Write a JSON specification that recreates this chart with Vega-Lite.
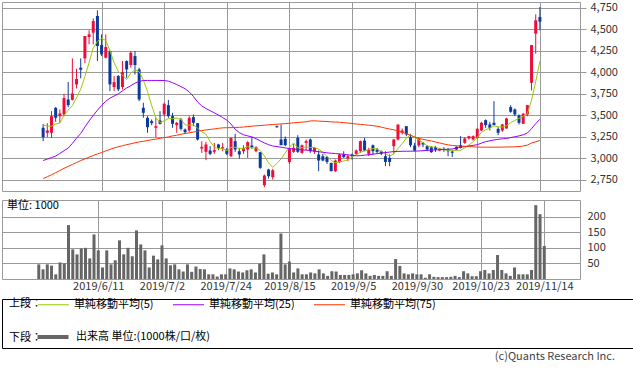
{
"$schema": "https://vega.github.io/schema/vega-lite/v6.json",
"padding": {"left": 1, "top": 1, "right": 0, "bottom": 0},
"background": "white",
"data": {"values": [
{"i":0,"o":3356,"h":3402,"l":3201,"c":3247,"v":47,"m5":3387,"m25":2976,"m75":2766},
{"i":1,"o":3298,"h":3410,"l":3247,"c":3325,"v":31,"m5":3375,"m25":2993,"m75":2788},
{"i":2,"o":3298,"h":3550,"l":3239,"c":3491,"v":47,"m5":3375,"m25":3010,"m75":2810},
{"i":3,"o":3588,"h":3596,"l":3426,"c":3472,"v":43,"m5":3400,"m25":3028,"m75":2835},
{"i":4,"o":3491,"h":3569,"l":3414,"c":3522,"v":15,"m5":3411,"m25":3058,"m75":2860},
{"i":5,"o":3511,"h":3751,"l":3491,"c":3701,"v":53,"m5":3502,"m25":3090,"m75":2885},
{"i":6,"o":3685,"h":3887,"l":3596,"c":3619,"v":50,"m5":3561,"m25":3120,"m75":2908},
{"i":7,"o":3681,"h":4162,"l":3674,"c":3755,"v":173,"m5":3614,"m25":3175,"m75":2930},
{"i":8,"o":3860,"h":4042,"l":3813,"c":3922,"v":95,"m5":3704,"m25":3235,"m75":2953},
{"i":9,"o":4054,"h":4162,"l":3930,"c":4030,"v":79,"m5":3805,"m25":3290,"m75":2975},
{"i":10,"o":4162,"h":4422,"l":4108,"c":4422,"v":98,"m5":3950,"m25":3365,"m75":2995},
{"i":11,"o":4410,"h":4488,"l":4325,"c":4441,"v":100,"m5":4114,"m25":3435,"m75":3015},
{"i":12,"o":4461,"h":4627,"l":4325,"c":4596,"v":66,"m5":4282,"m25":3500,"m75":3035},
{"i":13,"o":4655,"h":4720,"l":4131,"c":4306,"v":143,"m5":4359,"m25":3560,"m75":3052},
{"i":14,"o":4317,"h":4441,"l":4189,"c":4209,"v":92,"m5":4395,"m25":3615,"m75":3068},
{"i":15,"o":4170,"h":4441,"l":4162,"c":4294,"v":37,"m5":4369,"m25":3665,"m75":3088},
{"i":16,"o":4247,"h":4255,"l":3782,"c":3860,"v":92,"m5":4253,"m25":3700,"m75":3105},
{"i":17,"o":3829,"h":3957,"l":3782,"c":3887,"v":47,"m5":4111,"m25":3725,"m75":3122},
{"i":18,"o":3957,"h":3968,"l":3782,"c":3802,"v":60,"m5":4010,"m25":3750,"m75":3135},
{"i":19,"o":3829,"h":4131,"l":3802,"c":4003,"v":124,"m5":3969,"m25":3785,"m75":3148},
{"i":20,"o":4131,"h":4139,"l":3937,"c":4034,"v":79,"m5":3917,"m25":3818,"m75":3160},
{"i":21,"o":4085,"h":4247,"l":4054,"c":4228,"v":100,"m5":3991,"m25":3845,"m75":3170},
{"i":22,"o":4189,"h":4247,"l":3976,"c":4085,"v":73,"m5":4030,"m25":3875,"m75":3182},
{"i":23,"o":4034,"h":4054,"l":3666,"c":3685,"v":156,"m5":4007,"m25":3895,"m75":3192},
{"i":24,"o":3588,"h":3647,"l":3472,"c":3530,"v":111,"m5":3912,"m25":3905,"m75":3200},
{"i":25,"o":3472,"h":3491,"l":3298,"c":3363,"v":92,"m5":3778,"m25":3906,"m75":3208},
{"i":26,"o":3433,"h":3453,"l":3387,"c":3410,"v":37,"m5":3615,"m25":3906,"m75":3217},
{"i":27,"o":3356,"h":3472,"l":3247,"c":3375,"v":75,"m5":3473,"m25":3906,"m75":3225},
{"i":28,"o":3441,"h":3550,"l":3395,"c":3402,"v":63,"m5":3416,"m25":3906,"m75":3234},
{"i":29,"o":3511,"h":3647,"l":3491,"c":3635,"v":108,"m5":3437,"m25":3905,"m75":3242},
{"i":30,"o":3619,"h":3678,"l":3472,"c":3491,"v":66,"m5":3463,"m25":3898,"m75":3250},
{"i":31,"o":3491,"h":3530,"l":3356,"c":3402,"v":44,"m5":3461,"m25":3880,"m75":3262},
{"i":32,"o":3387,"h":3425,"l":3298,"c":3414,"v":47,"m5":3469,"m25":3858,"m75":3270},
{"i":33,"o":3453,"h":3472,"l":3325,"c":3344,"v":31,"m5":3457,"m25":3835,"m75":3280},
{"i":34,"o":3336,"h":3348,"l":3286,"c":3305,"v":24,"m5":3391,"m25":3810,"m75":3290},
{"i":35,"o":3325,"h":3491,"l":3309,"c":3472,"v":47,"m5":3387,"m25":3772,"m75":3298},
{"i":36,"o":3480,"h":3511,"l":3375,"c":3414,"v":23,"m5":3390,"m25":3720,"m75":3306},
{"i":37,"o":3410,"h":3410,"l":3208,"c":3220,"v":40,"m5":3351,"m25":3655,"m75":3315},
{"i":38,"o":3115,"h":3201,"l":3065,"c":3135,"v":32,"m5":3309,"m25":3610,"m75":3324},
{"i":39,"o":3077,"h":3193,"l":2980,"c":3162,"v":31,"m5":3281,"m25":3580,"m75":3331},
{"i":40,"o":3092,"h":3143,"l":3038,"c":3053,"v":15,"m5":3197,"m25":3555,"m75":3337},
{"i":41,"o":3077,"h":3181,"l":3053,"c":3096,"v":15,"m5":3133,"m25":3530,"m75":3343},
{"i":42,"o":3162,"h":3170,"l":3096,"c":3123,"v":8,"m5":3114,"m25":3505,"m75":3350},
{"i":43,"o":3115,"h":3181,"l":3084,"c":3131,"v":15,"m5":3113,"m25":3475,"m75":3355},
{"i":44,"o":3104,"h":3123,"l":3038,"c":3053,"v":15,"m5":3091,"m25":3445,"m75":3357},
{"i":45,"o":3026,"h":3239,"l":3015,"c":3239,"v":34,"m5":3128,"m25":3400,"m75":3358},
{"i":46,"o":3201,"h":3286,"l":3077,"c":3104,"v":31,"m5":3130,"m25":3340,"m75":3360},
{"i":47,"o":3084,"h":3123,"l":2999,"c":3046,"v":24,"m5":3115,"m25":3300,"m75":3362},
{"i":48,"o":3084,"h":3154,"l":3053,"c":3123,"v":21,"m5":3113,"m25":3275,"m75":3365},
{"i":49,"o":3104,"h":3201,"l":3007,"c":3189,"v":28,"m5":3140,"m25":3262,"m75":3370},
{"i":50,"o":3150,"h":3251,"l":3115,"c":3131,"v":31,"m5":3119,"m25":3250,"m75":3375},
{"i":51,"o":3084,"h":3143,"l":3073,"c":3131,"v":21,"m5":3124,"m25":3230,"m75":3379},
{"i":52,"o":3073,"h":3073,"l":2879,"c":2891,"v":49,"m5":3093,"m25":3205,"m75":3382},
{"i":53,"o":2689,"h":2813,"l":2666,"c":2801,"v":79,"m5":3029,"m25":3180,"m75":3386},
{"i":54,"o":2871,"h":2879,"l":2766,"c":2794,"v":17,"m5":2950,"m25":3160,"m75":3390},
{"i":55,"o":2782,"h":2879,"l":2755,"c":2863,"v":21,"m5":2896,"m25":3145,"m75":3394},
{"i":56,"o":3375,"h":3383,"l":3356,"c":3363,"v":15,"m5":2942,"m25":3138,"m75":3398},
{"i":57,"o":3220,"h":3395,"l":3154,"c":3154,"v":146,"m5":2995,"m25":3131,"m75":3401},
{"i":58,"o":3228,"h":3255,"l":3143,"c":3154,"v":47,"m5":3066,"m25":3122,"m75":3405},
{"i":59,"o":2957,"h":3123,"l":2937,"c":3112,"v":56,"m5":3129,"m25":3115,"m75":3409},
{"i":60,"o":3077,"h":3170,"l":3065,"c":3123,"v":21,"m5":3181,"m25":3110,"m75":3414},
{"i":61,"o":3239,"h":3270,"l":3065,"c":3077,"v":34,"m5":3124,"m25":3104,"m75":3418},
{"i":62,"o":3065,"h":3162,"l":3053,"c":3154,"v":15,"m5":3124,"m25":3100,"m75":3421},
{"i":63,"o":3181,"h":3220,"l":3092,"c":3201,"v":15,"m5":3133,"m25":3097,"m75":3426},
{"i":64,"o":3220,"h":3232,"l":3065,"c":3084,"v":21,"m5":3128,"m25":3092,"m75":3436},
{"i":65,"o":3077,"h":3131,"l":3053,"c":3123,"v":18,"m5":3128,"m25":3086,"m75":3437},
{"i":66,"o":3046,"h":3092,"l":2852,"c":2976,"v":31,"m5":3108,"m25":3078,"m75":3434},
{"i":67,"o":3026,"h":3053,"l":2968,"c":2976,"v":18,"m5":3072,"m25":3072,"m75":3431},
{"i":68,"o":3018,"h":3026,"l":2937,"c":2960,"v":10,"m5":3024,"m25":3065,"m75":3428},
{"i":69,"o":2949,"h":2949,"l":2852,"c":2852,"v":25,"m5":2977,"m25":3061,"m75":3425},
{"i":70,"o":2852,"h":2988,"l":2844,"c":2976,"v":24,"m5":2948,"m25":3057,"m75":3423},
{"i":71,"o":2957,"h":3053,"l":2945,"c":3046,"v":13,"m5":2962,"m25":3053,"m75":3420},
{"i":72,"o":3046,"h":3084,"l":3007,"c":3015,"v":13,"m5":2970,"m25":3048,"m75":3416},
{"i":73,"o":2999,"h":3046,"l":2968,"c":3026,"v":13,"m5":2983,"m25":3042,"m75":3411},
{"i":74,"o":3046,"h":3057,"l":2987,"c":3026,"v":15,"m5":3018,"m25":3036,"m75":3406},
{"i":75,"o":3053,"h":3104,"l":3038,"c":3092,"v":18,"m5":3041,"m25":3030,"m75":3400},
{"i":76,"o":3084,"h":3208,"l":3065,"c":3201,"v":28,"m5":3072,"m25":3033,"m75":3396},
{"i":77,"o":3208,"h":3239,"l":3084,"c":3092,"v":18,"m5":3087,"m25":3038,"m75":3391},
{"i":78,"o":3053,"h":3123,"l":3026,"c":3104,"v":10,"m5":3103,"m25":3044,"m75":3386},
{"i":79,"o":3154,"h":3162,"l":3038,"c":3084,"v":13,"m5":3115,"m25":3050,"m75":3381},
{"i":80,"o":3104,"h":3123,"l":3053,"c":3077,"v":10,"m5":3112,"m25":3056,"m75":3374},
{"i":81,"o":3084,"h":3092,"l":3038,"c":3053,"v":10,"m5":3082,"m25":3062,"m75":3364},
{"i":82,"o":3026,"h":3084,"l":2910,"c":2960,"v":25,"m5":3056,"m25":3068,"m75":3352},
{"i":83,"o":3007,"h":3046,"l":2910,"c":2960,"v":10,"m5":3027,"m25":3074,"m75":3342},
{"i":84,"o":3143,"h":3228,"l":3053,"c":3220,"v":64,"m5":3054,"m25":3080,"m75":3333},
{"i":85,"o":3220,"h":3394,"l":3208,"c":3394,"v":42,"m5":3117,"m25":3082,"m75":3321},
{"i":86,"o":3298,"h":3348,"l":3278,"c":3325,"v":18,"m5":3172,"m25":3083,"m75":3305},
{"i":87,"o":3375,"h":3375,"l":3259,"c":3278,"v":15,"m5":3235,"m25":3084,"m75":3288},
{"i":88,"o":3247,"h":3286,"l":3131,"c":3154,"v":18,"m5":3274,"m25":3084,"m75":3268},
{"i":89,"o":3150,"h":3181,"l":3084,"c":3092,"v":15,"m5":3249,"m25":3085,"m75":3248},
{"i":90,"o":3150,"h":3247,"l":3131,"c":3228,"v":15,"m5":3215,"m25":3087,"m75":3232},
{"i":91,"o":3181,"h":3193,"l":3131,"c":3162,"v":4,"m5":3183,"m25":3090,"m75":3222},
{"i":92,"o":3143,"h":3154,"l":3084,"c":3104,"v":15,"m5":3148,"m25":3094,"m75":3212},
{"i":93,"o":3131,"h":3143,"l":3065,"c":3073,"v":7,"m5":3132,"m25":3097,"m75":3202},
{"i":94,"o":3131,"h":3143,"l":3077,"c":3104,"v":6,"m5":3134,"m25":3100,"m75":3191},
{"i":95,"o":3092,"h":3123,"l":3084,"c":3115,"v":6,"m5":3112,"m25":3102,"m75":3180},
{"i":96,"o":3112,"h":3131,"l":3077,"c":3100,"v":6,"m5":3099,"m25":3104,"m75":3168},
{"i":97,"o":3100,"h":3123,"l":3026,"c":3084,"v":7,"m5":3095,"m25":3107,"m75":3158},
{"i":98,"o":3080,"h":3095,"l":3018,"c":3066,"v":10,"m5":3094,"m25":3110,"m75":3151},
{"i":99,"o":3135,"h":3143,"l":3096,"c":3104,"v":6,"m5":3094,"m25":3120,"m75":3147},
{"i":100,"o":3154,"h":3259,"l":3115,"c":3123,"v":25,"m5":3095,"m25":3130,"m75":3144},
{"i":101,"o":3181,"h":3247,"l":3170,"c":3232,"v":18,"m5":3122,"m25":3138,"m75":3141},
{"i":102,"o":3232,"h":3259,"l":3220,"c":3259,"v":9,"m5":3157,"m25":3145,"m75":3138},
{"i":103,"o":3220,"h":3267,"l":3208,"c":3259,"v":9,"m5":3195,"m25":3152,"m75":3135},
{"i":104,"o":3239,"h":3356,"l":3232,"c":3344,"v":25,"m5":3243,"m25":3160,"m75":3132},
{"i":105,"o":3325,"h":3426,"l":3317,"c":3414,"v":29,"m5":3302,"m25":3178,"m75":3131},
{"i":106,"o":3445,"h":3453,"l":3356,"c":3387,"v":18,"m5":3333,"m25":3195,"m75":3131},
{"i":107,"o":3395,"h":3426,"l":3325,"c":3356,"v":29,"m5":3352,"m25":3205,"m75":3131},
{"i":108,"o":3414,"h":3666,"l":3387,"c":3387,"v":77,"m5":3378,"m25":3215,"m75":3131},
{"i":109,"o":3344,"h":3363,"l":3270,"c":3298,"v":29,"m5":3368,"m25":3222,"m75":3131},
{"i":110,"o":3325,"h":3402,"l":3309,"c":3395,"v":18,"m5":3365,"m25":3228,"m75":3132},
{"i":111,"o":3348,"h":3472,"l":3348,"c":3464,"v":10,"m5":3380,"m25":3232,"m75":3133},
{"i":112,"o":3596,"h":3619,"l":3530,"c":3542,"v":37,"m5":3417,"m25":3242,"m75":3134},
{"i":113,"o":3569,"h":3581,"l":3491,"c":3511,"v":15,"m5":3442,"m25":3252,"m75":3135},
{"i":114,"o":3499,"h":3511,"l":3395,"c":3414,"v":15,"m5":3465,"m25":3262,"m75":3138},
{"i":115,"o":3402,"h":3530,"l":3402,"c":3519,"v":15,"m5":3490,"m25":3275,"m75":3145},
{"i":116,"o":3511,"h":3619,"l":3491,"c":3619,"v":29,"m5":3521,"m25":3295,"m75":3155},
{"i":117,"o":3879,"h":4317,"l":3790,"c":4317,"v":237,"m5":3676,"m25":3345,"m75":3180},
{"i":118,"o":4449,"h":4674,"l":4216,"c":4604,"v":208,"m5":3895,"m25":3405,"m75":3193},
{"i":119,"o":4643,"h":4759,"l":4488,"c":4589,"v":106,"m5":4130,"m25":3455,"m75":3208}
]},
"vconcat": [
 {"vconcat": [
  {"width": 578, "height": 189,
   "layer": [
    {"mark": {"type": "rule", "strokeWidth": 1},
     "encoding": {
      "x": {"field": "i", "type": "quantitative", "scale": {"domain": [-8.66, 127.41], "nice": false, "zero": false},
            "axis": {"values": [14,29,44,59,74,89,104,119], "labels": false, "ticks": false, "domain": false, "grid": true, "title": null}},
      "y": {"field": "l", "type": "quantitative", "scale": {"domain": [2622, 4817], "nice": false, "zero": false},
            "axis": {"orient": "right", "values": [2750,3000,3250,3500,3750,4000,4250,4500,4750], "format": ",.0f", "grid": true, "tickSize": 6, "labelPadding": 4, "title": null, "domain": false, "labelOverlap": false}},
      "y2": {"field": "h"},
      "color": {"condition": {"test": "datum.c >= datum.o", "value": "#ee0c3c"}, "value": "#0c3a9c"}
     }},
    {"mark": {"type": "bar", "size": 3},
     "encoding": {
      "x": {"field": "i", "type": "quantitative", "scale": {"domain": [-8.66, 127.41], "nice": false, "zero": false},
            "axis": {"values": [14,29,44,59,74,89,104,119], "labels": false, "ticks": false, "domain": false, "grid": true, "title": null}},
      "y": {"field": "o", "type": "quantitative", "scale": {"domain": [2622, 4817], "nice": false, "zero": false},
            "axis": {"orient": "right", "values": [2750,3000,3250,3500,3750,4000,4250,4500,4750], "format": ",.0f", "grid": true, "tickSize": 6, "labelPadding": 4, "title": null, "domain": false, "labelOverlap": false}},
      "y2": {"field": "c"},
      "color": {"condition": {"test": "datum.c >= datum.o", "value": "#ee0c3c"}, "value": "#0c3a9c"}
     }},
    {"transform": [{"fold": ["m5","m25","m75"], "as": ["k","val"]}],
     "mark": {"type": "line", "strokeWidth": 1},
     "encoding": {
      "x": {"field": "i", "type": "quantitative", "scale": {"domain": [-8.66, 127.41], "nice": false, "zero": false},
            "axis": {"values": [14,29,44,59,74,89,104,119], "labels": false, "ticks": false, "domain": false, "grid": true, "title": null}},
      "y": {"field": "val", "type": "quantitative", "scale": {"domain": [2622, 4817], "nice": false, "zero": false},
            "axis": {"orient": "right", "values": [2750,3000,3250,3500,3750,4000,4250,4500,4750], "format": ",.0f", "grid": true, "tickSize": 6, "labelPadding": 4, "title": null, "domain": false, "labelOverlap": false}},
      "color": {"field": "k", "type": "nominal",
        "scale": {"domain": ["m5","m25","m75"], "range": ["#99cc00","#9900ff","#ff3300"]},
        "legend": {"orient": "none", "legendX": 7, "legendY": 297, "direction": "horizontal",
          "title": "上段：", "titleOrient": "left", "titleFontSize": 11, "titleFontWeight": "normal", "titleColor": "#000000", "titlePadding": 0,
          "symbolType": "M-3.875,0H3.875", "symbolSize": 64, "symbolStrokeWidth": 1, "symbolOffset": 6,
          "labelFontSize": 11, "labelColor": "#000000", "labelOffset": 15, "columnPadding": 17, "labelLimit": 300,
          "labelExpr": "datum.label == 'm5' ? '単純移動平均(5)' : datum.label == 'm25' ? '単純移動平均(25)' : '単純移動平均(75)'"}}
     }}
   ]},
  {"width": 578, "height": 79,
   "title": {"text": "単位: 1000", "anchor": "start", "orient": "top", "frame": "group", "offset": -11, "dx": 5, "fontSize": 11, "fontWeight": "normal", "color": "#000000", "font": "Noto Sans CJK JP"},
   "mark": {"type": "rule", "strokeWidth": 3},
   "encoding": {
    "x": {"field": "i", "type": "quantitative", "scale": {"domain": [-8.66, 127.41], "nice": false, "zero": false},
          "axis": {"values": [14,29,44,59,74,89,104,119], "grid": true, "ticks": false, "domain": false, "labelPadding": 1, "title": null, "labelFlush": false, "labelOverlap": false,
                   "labelExpr": "['2019/6/11','2019/7/2','2019/7/24','2019/8/15','2019/9/5','2019/9/30','2019/10/23','2019/11/14'][round((datum.value-14)/15)]"}},
    "y": {"field": "v", "type": "quantitative", "scale": {"domain": [0, 253.6], "nice": false},
          "axis": {"orient": "right", "values": [50,100,150,200], "grid": true, "tickSize": 0, "labelPadding": 7, "title": null, "domain": false}},
    "y2": {"datum": 0},
    "stroke": {"datum": "出来高 単位:(1000株/口/枚)", "type": "nominal", "scale": {"range": ["#666666"]},
      "legend": {"orient": "none", "legendX": 7, "legendY": 329, "title": "下段：", "titleOrient": "left", "titleFontSize": 11, "titleFontWeight": "normal", "titleColor": "#000000", "titlePadding": 0,
        "symbolType": "M-3.875,0H3.875", "symbolSize": 64, "symbolStrokeWidth": 4, "symbolOffset": 5, "labelFontSize": 11, "labelColor": "#000000", "labelOffset": 17, "labelLimit": 300}}
   }}
 ], "spacing": 7},
 {"width": 631, "height": 49,
  "data": {"values": [{}]},
  "title": {"text": "(c)Quants Research Inc.", "orient": "bottom", "anchor": "end", "frame": "group", "fontSize": 11, "fontWeight": "normal", "color": "#444444", "font": "Noto Sans CJK JP", "offset": 3, "dx": -18},
  "mark": {"type": "text", "text": ""},
  "encoding": {},
  "view": {"stroke": "#000000", "strokeWidth": 1}}
],
"spacing": 6,
"config": {
 "font": "Noto Sans CJK JP",
 "view": {"stroke": "#9a9a9a", "strokeWidth": 1},
 "axis": {"labelFont": "Noto Sans CJK JP", "labelFontSize": 11, "labelColor": "#333333", "gridColor": "#9a9a9a", "gridOpacity": 1, "tickColor": "#9a9a9a", "labelFlush": false, "labelOverlap": false},
 "legend": {"labelFont": "Noto Sans CJK JP", "titleFont": "Noto Sans CJK JP"}
}
}
